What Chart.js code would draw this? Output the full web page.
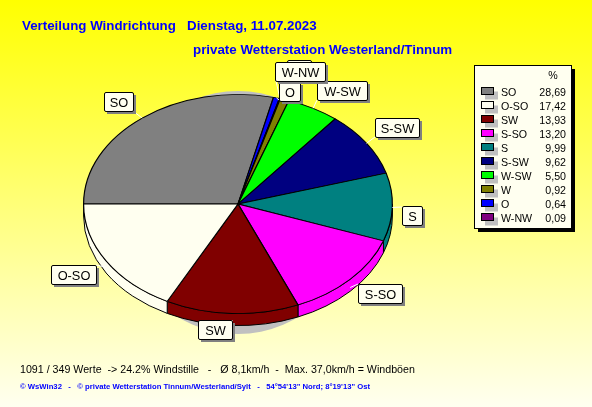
<!DOCTYPE html>
<html>
<head>
<meta charset="utf-8">
<style>
  html, body { margin: 0; padding: 0; }
  body { width: 592px; height: 407px; overflow: hidden; background: linear-gradient(#ffff00, #fffff0); }
  canvas { display: block; }
</style>
<script src="https://cdn.jsdelivr.net/npm/chart.js@4"></script>
</head>
<body>
<canvas id="wind" width="592" height="407"></canvas>
<script>
const directions = ['SO', 'O', 'W-NW', 'W', 'W-SW', 'S-SW', 'S', 'S-SO', 'SW', 'O-SO'];
const percents = [28.69, 0.64, 0.09, 0.92, 5.50, 9.62, 9.99, 13.20, 13.93, 17.42];
const colors = ['#808080', '#0000ff', '#800080', '#808000', '#00ff00', '#000080', '#008080', '#ff00ff', '#800000', '#fffff0'];

// legend is sorted by share, the pie runs in compass order
const legendOrder = ['SO', 'O-SO', 'SW', 'S-SO', 'S', 'S-SW', 'W-SW', 'W', 'O', 'W-NW'];

const titleLine1 = 'Verteilung Windrichtung   Dienstag, 11.07.2023';
const titleLine2 = 'private Wetterstation Westerland/Tinnum';
const footerLine1 = '1091 / 349 Werte  -> 24.2% Windstille   -   Ø 8,1km/h  -  Max. 37,0km/h = Windböen';
const footerLine2 = '© WsWin32   -   © private Wetterstation Tinnum/Westerland/Sylt   -   54°54\'13" Nord; 8°19\'13" Ost';

// callout boxes, drawn in this order
const callouts = [
  { name: 'W', x: 287, y: 60, w: 24, h: 19, tx: 299, ty: 79 },
  { name: 'SO', x: 104, y: 92, w: 29, h: 19, tx: 133, ty: 111 },
  { name: 'O-SO', x: 51, y: 265, w: 45, h: 19, tx: 96, ty: 265 },
  { name: 'SW', x: 198, y: 320, w: 34, h: 19, tx: 232, ty: 320 },
  { name: 'S-SO', x: 358, y: 284, w: 44, h: 19, tx: 358, ty: 284 },
  { name: 'S', x: 402, y: 206, w: 20, h: 19, tx: 402, ty: 207 },
  { name: 'S-SW', x: 375, y: 118, w: 44, h: 19, tx: 375, ty: 137 },
  { name: 'W-SW', x: 317, y: 81, w: 50, h: 19, tx: 317, ty: 100 },
  { name: 'O', x: 279, y: 82, w: 21, h: 19, tx: 279, ty: 100 },
  { name: 'W-NW', x: 275, y: 62, w: 50, h: 19, tx: 276, ty: 81 }
];

const Y_SQUASH = 110 / 155;
const DEPTH = 12;

function geometry(chart) {
  const first = chart.getDatasetMeta(0).data[0];
  return { cx: first.x, cy: first.y, rx: first.outerRadius, ry: first.outerRadius * Y_SQUASH };
}

const piePerspective = {
  id: 'piePerspective',
  beforeDatasetsDraw(chart) {
    const ctx = chart.ctx;
    const { cx, cy, rx, ry } = geometry(chart);

    // soft shadow under the disc
    ctx.save();
    ctx.fillStyle = '#c0c0c0';
    ctx.beginPath();
    ctx.ellipse(cx, cy + 8.5, 118, 121.5, 0, 0, Math.PI * 2);
    ctx.fill();

    // side wall, only the front half shows
    ctx.lineWidth = 1;
    ctx.strokeStyle = '#000';
    chart.getDatasetMeta(0).data.forEach((arc, i) => {
      const a0 = Math.max(arc.startAngle, 0);
      const a1 = Math.min(arc.endAngle, Math.PI);
      if (a1 <= a0) return;
      ctx.fillStyle = colors[i];
      ctx.beginPath();
      ctx.ellipse(cx, cy, rx, ry, 0, a0, a1);
      ctx.ellipse(cx, cy + DEPTH, rx, ry, 0, a1, a0, true);
      ctx.closePath();
      ctx.fill();
      ctx.stroke();
    });
    ctx.restore();

    // squash the round pie into the ellipse
    ctx.save();
    ctx.translate(0, cy);
    ctx.scale(1, Y_SQUASH);
    ctx.translate(0, -cy);
  },
  afterDatasetsDraw(chart) {
    chart.ctx.restore();
  }
};

const annotations = {
  id: 'annotations',
  afterDraw(chart) {
    const ctx = chart.ctx;
    const { cx, cy, rx, ry } = geometry(chart);
    const arcs = chart.getDatasetMeta(0).data;
    ctx.save();
    ctx.textBaseline = 'alphabetic';

    // titles
    ctx.fillStyle = '#0000ff';
    ctx.font = 'bold 13.33px "Liberation Sans"';
    ctx.fillText(titleLine1, 22, 30);
    ctx.fillText(titleLine2, 193, 54);

    // footer
    ctx.fillStyle = '#000';
    ctx.font = '10.67px "Liberation Sans"';
    ctx.fillText(footerLine1, 20, 373);
    ctx.fillStyle = '#0000ff';
    ctx.font = 'bold 7.7px "Liberation Sans"';
    ctx.fillText(footerLine2, 20, 389);

    // leaders
    ctx.strokeStyle = '#fff';
    ctx.lineWidth = 1;
    callouts.forEach(c => {
      const arc = arcs[directions.indexOf(c.name)];
      const mid = (arc.startAngle + arc.endAngle) / 2;
      const front = Math.sin(mid) > 0 ? DEPTH * Math.sin(mid) : 0;
      ctx.beginPath();
      ctx.moveTo(cx + rx * Math.cos(mid), cy + ry * Math.sin(mid) + front);
      ctx.lineTo(c.tx, c.ty);
      ctx.stroke();
    });

    // callout boxes
    ctx.font = '12.8px "Liberation Sans"';
    ctx.textAlign = 'center';
    callouts.forEach(c => {
      ctx.fillStyle = '#808080';
      ctx.fillRect(c.x + 3, c.y + 3, c.w, c.h);
      ctx.fillStyle = '#fffff0';
      ctx.strokeStyle = '#000';
      ctx.beginPath();
      ctx.roundRect(c.x + 0.5, c.y + 0.5, c.w, c.h, 1.5);
      ctx.fill();
      ctx.stroke();
      ctx.fillStyle = '#000';
      ctx.fillText(c.name, c.x + c.w / 2 + 0.5, c.y + 14.5);
    });

    // legend frame
    ctx.fillStyle = '#000';
    ctx.fillRect(478, 69, 97, 163);
    ctx.fillStyle = '#fffff0';
    ctx.strokeStyle = '#000';
    ctx.fillRect(474.5, 65.5, 97, 163);
    ctx.strokeRect(474.5, 65.5, 97, 163);

    ctx.font = '10.67px "Liberation Sans"';
    ctx.fillStyle = '#000';
    ctx.textAlign = 'center';
    ctx.fillText('%', 553, 79);
    legendOrder.forEach((name, row) => {
      const i = directions.indexOf(name);
      const y = 87.5 + row * 14;
      ctx.fillStyle = '#c0c0c0';
      ctx.fillRect(485, y + 4, 13, 8);
      ctx.fillStyle = colors[i];
      ctx.fillRect(481.5, y, 12, 7);
      ctx.strokeRect(481.5, y, 12, 7);
      ctx.fillStyle = '#000';
      ctx.textAlign = 'left';
      ctx.fillText(name, 501, y + 8);
      ctx.textAlign = 'right';
      ctx.fillText(percents[i].toFixed(2).replace('.', ','), 566, y + 8);
    });
    ctx.restore();
  }
};

new Chart(document.getElementById('wind'), {
  type: 'pie',
  plugins: [piePerspective, annotations],
  data: {
    labels: directions,
    datasets: [{
      data: percents,
      backgroundColor: colors,
      borderColor: '#000',
      borderWidth: 1.2,
      borderAlign: 'center'
    }]
  },
  options: {
    responsive: false,
    animation: false,
    rotation: -90,
    layout: { padding: { left: 83, right: 199, top: 49, bottom: 48 } },
    plugins: { legend: { display: false }, title: { display: false }, tooltip: { enabled: false } }
  }
});
</script>
</body>
</html>
